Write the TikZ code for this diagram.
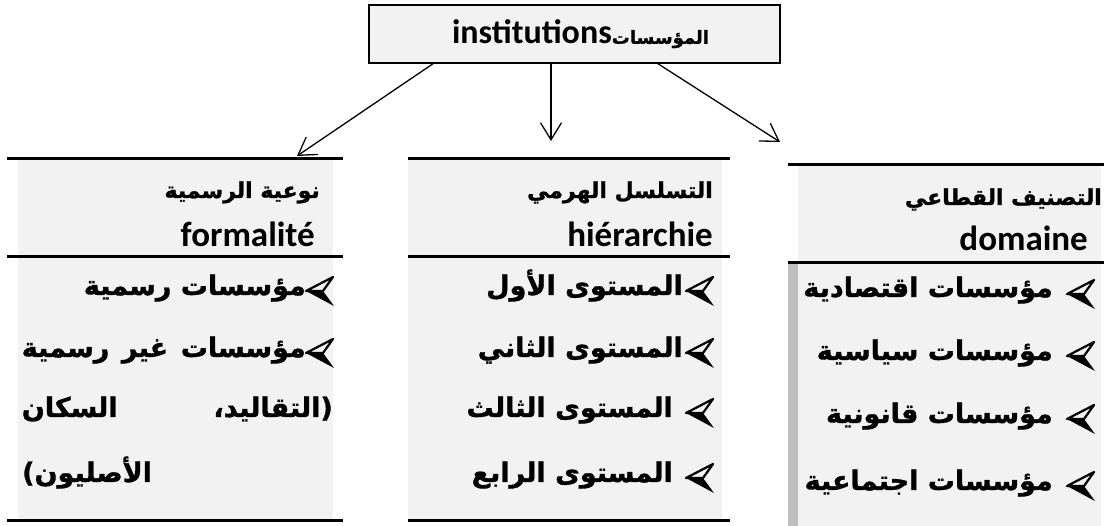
\documentclass[tikz,border=0pt]{standalone}
\usepackage{fontspec}
\usetikzlibrary{arrows.meta}
\TeXXeTstate=1
\newfontfamily\arabicfont[Script=Arabic,BoldFeatures={FakeBold=1.2}]{DejaVu Sans}
\newfontfamily\latinfont{Carlito}
\definecolor{panel}{HTML}{F2F2F2}
\definecolor{strip}{HTML}{BFBFBF}

\tikzset{
  rule/.style={line width=3pt},
  arr/.style={line width=1.3pt,-{Straight Barb[length=17pt,width=21pt,line width=1.3pt]}},
  hdr/.style={inner sep=0pt,anchor=base east,font=\arabicfont\bfseries\fontsize{22}{26}\selectfont},
  lathdr/.style={inner sep=0pt,anchor=base east,font=\latinfont\bfseries\fontsize{35}{40}\selectfont},
  item/.style={inner sep=0pt,anchor=base east,font=\arabicfont\bfseries\fontsize{27}{32}\selectfont},
  bul/.pic={
    \fill (-27,0) -- (-10,0) -- (1,15) -- cycle;
    \draw[line width=2.2pt,line join=round] (-27,0) -- (0,-14) -- (-10,0) -- cycle;
  }
}

\begin{document}
\begin{tikzpicture}[x=1pt,y=-1pt]
\useasboundingbox (0,0) rectangle (1104,526);

% column backgrounds
\fill[panel] (18,159) rectangle (333,520);
\fill[panel] (408,159) rectangle (722,520);
\fill[panel] (798,165) rectangle (1101,526);
\fill[strip] (788,263) rectangle (798,526);

% column rules
\draw[rule] (7,159) -- (343,159);
\draw[rule] (7,257) -- (343,257);
\draw[rule] (7,521) -- (343,521);
\draw[rule] (408,159) -- (730,159);
\draw[rule] (408,257) -- (730,257);
\draw[rule] (408,521) -- (730,521);
\draw[rule] (788,165) -- (1104,165);
\draw[rule] (788,263) -- (1104,263);

% root box
\node[draw,fill=panel,line width=1.5pt,minimum width=411pt,minimum height=58pt,inner sep=0pt] (top) at (574.5,34)
  {\hspace{12pt}{\latinfont\bfseries\fontsize{34}{38}\selectfont institutions}{\arabicfont\bfseries\fontsize{18}{22}\selectfont\beginR المؤسسات\endR}};

% connectors
\coordinate (tl) at (297,156);
\coordinate (tm) at (551,141);
\coordinate (tr) at (780,142);
\draw[arr] ([xshift=-141.5pt]top.south) -- (tl);
\draw[arr] ([xshift=-23.5pt]top.south) -- (tm);
\draw[arr] ([xshift=83.5pt]top.south) -- (tr);

% headers
\node[hdr] (h1a) at (320,198) {\beginR نوعية الرسمية\endR};
\node[lathdr] (h1b) at (315,247) {formalité};
\node[hdr] (h2a) at (713,198) {\beginR التسلسل الهرمي\endR};
\node[lathdr] (h2b) at (713,247) {hiérarchie};
\node[hdr] (h3a) at (1102,205) {\beginR التصنيف القطاعي\endR};
\node[lathdr] (h3b) at (1088,251) {domaine};

% formality items
\pic at (333,291) {bul};
\node[item] (l1) at (306,295) {\beginR مؤسسات رسمية\endR};
\pic at (333,353) {bul};
\node[item] (l2) at (306,357) {\hbox to 284pt{\beginR مؤسسات\hfill غير\hfill رسمية\endR}};
\node[item] (l3) at (333,417) {\hbox to 311pt{\beginR (التقاليد،\hfill السكان\endR}};
\node[item,anchor=base west] (l4) at (22,482) {\beginR الأصليون)\endR};

% hierarchy items
\pic at (713,291) {bul};
\node[item] (m1) at (683,295) {\beginR المستوى الأول\endR};
\pic at (713,353) {bul};
\node[item] (m2) at (683,357) {\beginR المستوى الثاني\endR};
\pic at (713,413) {bul};
\node[item] (m3) at (673,417) {\beginR المستوى الثالث\endR};
\pic at (713,478) {bul};
\node[item] (m4) at (673,482) {\beginR المستوى الرابع\endR};

% domain items
\pic at (1094,294) {bul};
\node[item] (r1) at (1053,297) {\beginR مؤسسات اقتصادية\endR};
\pic at (1094,356) {bul};
\node[item] (r2) at (1053,360) {\beginR مؤسسات سياسية\endR};
\pic at (1094,419) {bul};
\node[item] (r3) at (1053,423) {\beginR مؤسسات قانونية\endR};
\pic at (1094,486) {bul};
\node[item] (r4) at (1053,490) {\beginR مؤسسات اجتماعية\endR};
\end{tikzpicture}
\end{document}
